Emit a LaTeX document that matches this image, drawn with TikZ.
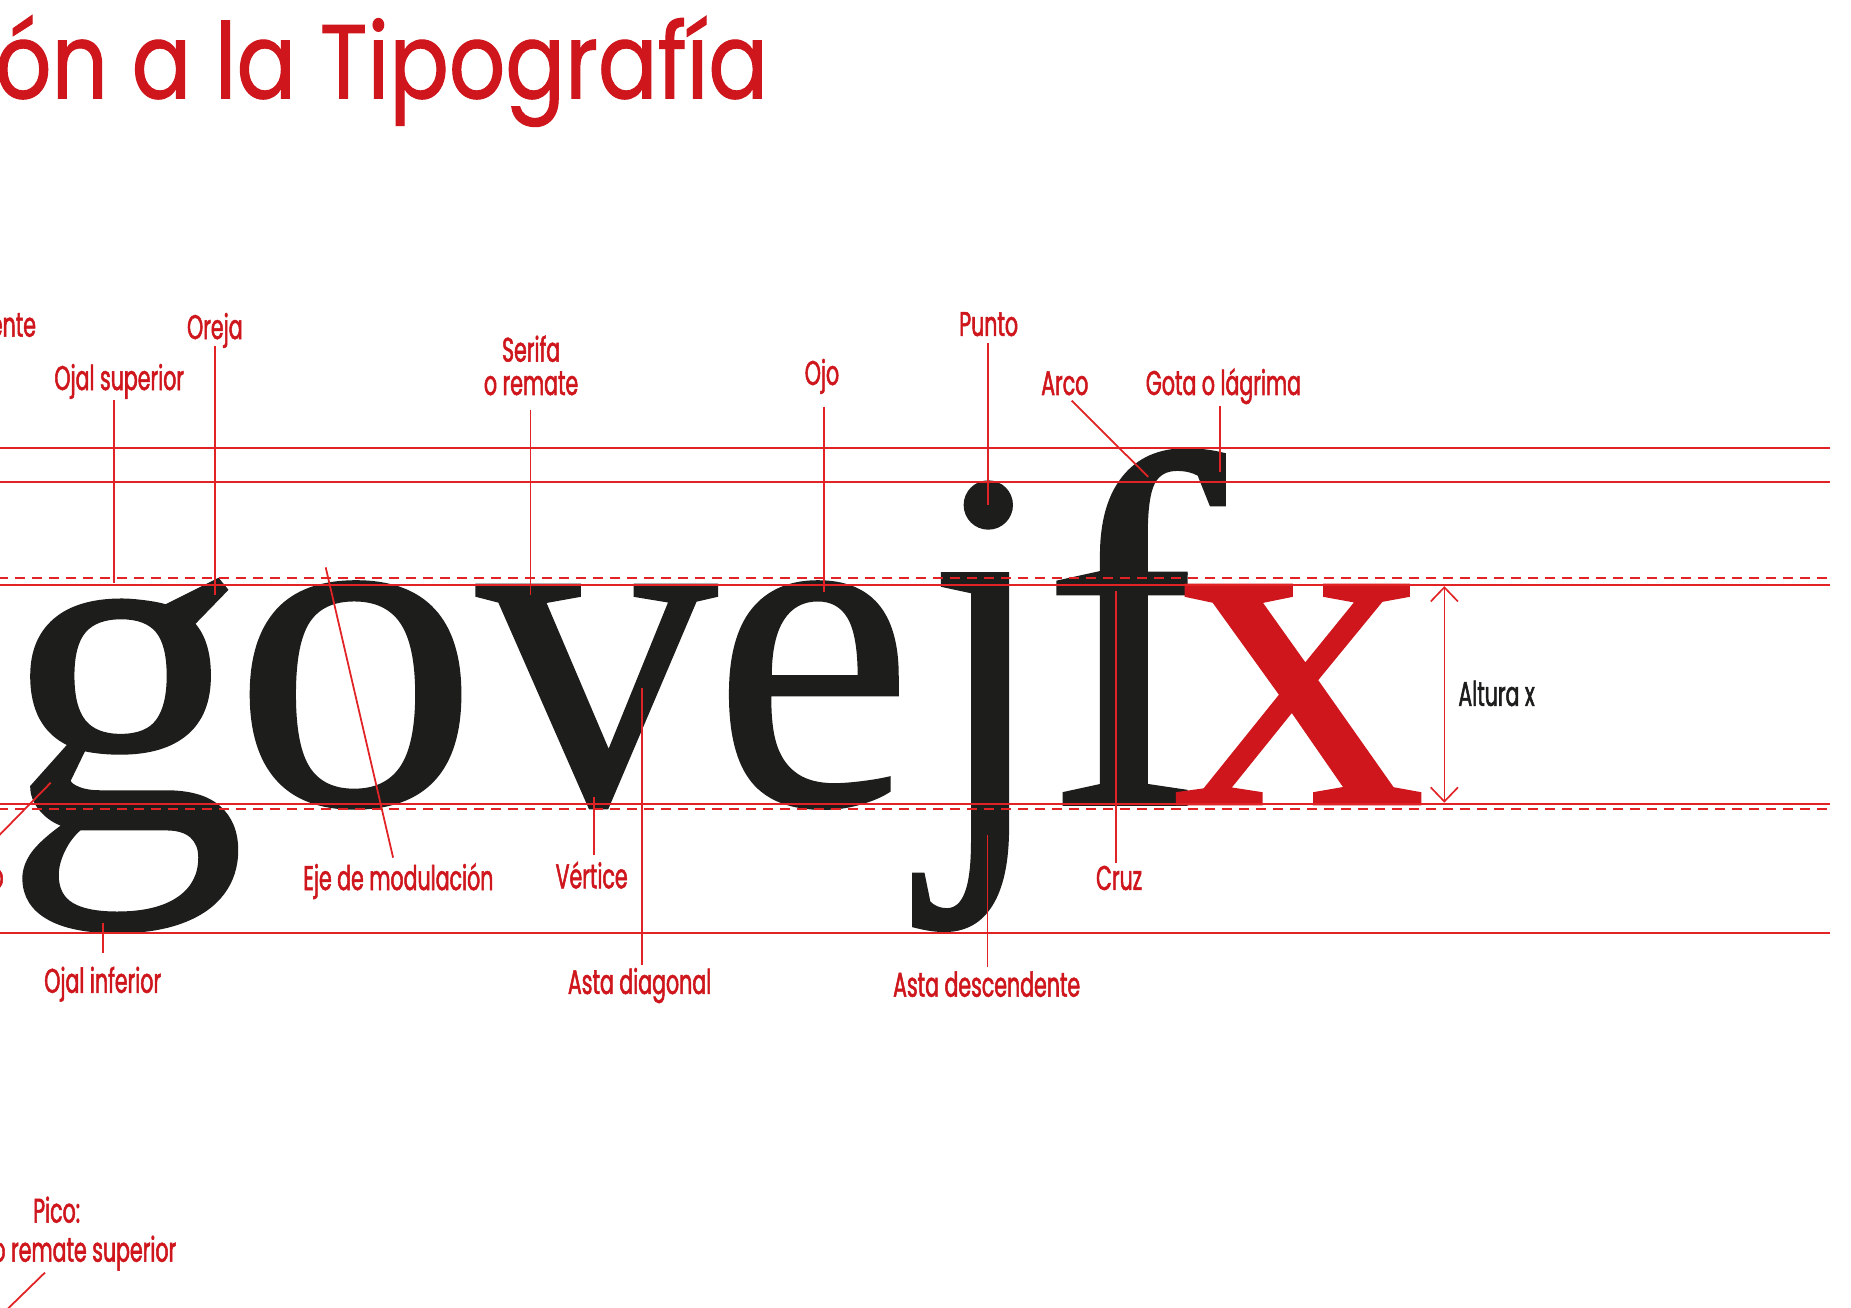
\documentclass[tikz,border=0pt]{standalone}
\usepackage{fontspec}
\usetikzlibrary{arrows.meta}
\setmainfont{Liberation Serif}
\newfontfamily\labfont[FakeStretch=0.60,FakeBold=1.5]{Poppins}
\newfontfamily\ttlfont[FakeStretch=0.84,FakeBold=1]{Poppins}
\newfontfamily\serfont[FakeBold=0.6]{Liberation Serif}
\newlength\glu \setlength\glu{0.5pt}
\definecolor{rline}{RGB}{226,35,38}
\definecolor{rtext}{RGB}{206,22,28}
\definecolor{inkc}{RGB}{29,29,27}
\newcommand\gly[3]{\resizebox*{#1\glu}{#2\glu}{\serfont #3}}
\begin{document}
\begin{tikzpicture}[x=0.5pt,y=-0.5pt,
  glyph/.style={inner sep=0pt,outer sep=0pt,anchor=north west,text=inkc},
  guide/.style={draw=rline,line width=0.85pt},
  guidedash/.style={draw=rline,line width=0.85pt,dash pattern=on 4.5pt off 2.7pt},
  leader/.style={draw=rline,line width=0.75pt},
  lbl/.style={font=\labfont\fontsize{14.5}{17}\selectfont,text=rtext,inner sep=0pt,anchor=base},
  ttl/.style={font=\ttlfont\fontsize{44.5}{50}\selectfont,text=rtext,inner sep=0pt,anchor=base east}]
\path[use as bounding box] (0,0) rectangle (1568,1108);
\clip (0,0) rectangle (1568,1108);
\fill[white] (0,0) rectangle (1568,1108);

% title
\node[ttl] (title) at (651,83.3) {ón a la Tipografía};

% glyphs
\node[glyph] (lg) at (2.5,491) {\gly{205.9}{298}{g}};
\node[glyph] (lo) at (196.9,492.7) {\gly{208.6}{191.8}{o}};
\node[glyph] (lv) at (404,495.7) {\gly{203}{188.3}{v}};
\node[glyph] (le) at (603.7,492.7) {\gly{169.7}{192}{e}};
\begin{scope}
\clip (700,470) rectangle (900,800);
\node[glyph] (lj) at (784.4,394.7) {\gly{102.9}{392.8}{j}};
\end{scope}
\fill[inkc] (837.2,427.8) circle (20.9);
\begin{scope}
\clip (870,360) -- (1100,360) -- (1100,470) -- (1006,470) -- (1006,700) -- (870,700) -- cycle;
\node[glyph] (lf) at (882,381) {\gly{155}{300}{f}};
\end{scope}
\node[glyph,text=rtext] (lx) at (993.7,495.7) {\gly{214.3}{185.1}{x}};

% guide lines
\draw[guide] (-2,379.2) -- (1550,379.2);
\draw[guide] (-2,408) -- (1550,408);
\draw[guidedash] (-2,489.9) -- (1550,489.9);
\draw[guide] (-2,495.7) -- (1550,495.7);
\draw[guide] (-2,680.8) -- (1550,680.8);
\draw[guidedash] (-2,685.4) -- (1550,685.4);
\draw[guide] (-2,790.6) -- (1550,790.6);

% x-height dimension
\coordinate (xtop) at (1223.5,496.5);
\coordinate (xbot) at (1223.5,680);
\draw[draw=rline,line width=0.7pt,{Straight Barb[length=6pt,width=11.5pt]}-{Straight Barb[length=6pt,width=11.5pt]}] (xtop) -- (xbot);
\node[lbl,text=inkc,anchor=base west] (altura) at (1235,598) {Altura x};

% labels
\node[lbl,anchor=base east] (ente) at (30.9,285.2) {ente};
\node[lbl] (oreja) at (182,287.2) {Oreja};
\node[lbl] (ojalsup) at (101,330.4) {Ojal superior};
\node[lbl] (serifa) at (449.9,306.4) {Serifa};
\node[lbl] (oremate) at (449.9,334.6) {o remate};
\node[lbl] (ojo) at (696.3,326.1) {Ojo};
\node[lbl] (punto) at (837.5,284.6) {Punto};
\node[lbl] (arco) at (902,334.6) {Arco};
\node[lbl] (gota) at (1036.4,334.6) {Gota o lágrima};
\node[lbl] (eje) at (337.5,754) {Eje de modulación};
\node[lbl] (vertice) at (501.2,752.5) {Vértice};
\node[lbl,anchor=base east] (lefto) at (3.5,752.5) {o};
\node[lbl] (cruz) at (948,753.9) {Cruz};
\node[lbl] (ojalinf) at (87,841) {Ojal inferior};
\node[lbl] (astadiag) at (541.8,842) {Asta diagonal};
\node[lbl] (astadesc) at (835.8,844.3) {Asta descendente};
\node[lbl] (pico) at (48,1035.7) {Pico:};
\node[lbl,anchor=base east] (picob) at (149.7,1068.8) {o remate superior};

% connector end points
\coordinate (orejaA) at (182,292.8);   \coordinate (orejaB) at (182,504);
\coordinate (ojalsupA) at (96.7,339);  \coordinate (ojalsupB) at (96.7,494.1);
\coordinate (serifaA) at (449.3,347);  \coordinate (serifaB) at (449.3,504);
\coordinate (ojoA) at (698,344.5);     \coordinate (ojoB) at (698,501.2);
\coordinate (puntoA) at (837.2,290.7); \coordinate (puntoB) at (837.2,427.8);
\coordinate (arcoA) at (907.8,339.4);  \coordinate (arcoB) at (972.7,404);
\coordinate (gotaA) at (1033.5,343.9); \coordinate (gotaB) at (1033.5,399.6);
\coordinate (ejeA) at (333,726.5);     \coordinate (ejeB) at (275.9,480.6);
\coordinate (verticeA) at (503.3,724.3); \coordinate (verticeB) at (503.3,674.8);
\coordinate (astadiagA) at (543.7,817.5); \coordinate (astadiagB) at (543.7,582.8);
\coordinate (ojalinfA) at (87.2,807);  \coordinate (ojalinfB) at (87.2,782);
\coordinate (astadescA) at (836.6,818.9); \coordinate (astadescB) at (836.6,707.3);
\coordinate (cruzA) at (945.1,730.8);  \coordinate (cruzB) at (945.1,501);
\coordinate (leftoA) at (-5,712);      \coordinate (leftoB) at (43,663);
\coordinate (picoA) at (38.1,1078);    \coordinate (picoB) at (-3,1118);

\draw[leader] (orejaA) -- (orejaB);
\draw[leader] (ojalsupA) -- (ojalsupB);
\draw[leader] (serifaA) -- (serifaB);
\draw[leader] (ojoA) -- (ojoB);
\draw[leader] (puntoA) -- (puntoB);
\draw[leader] (arcoA) -- (arcoB);
\draw[leader] (gotaA) -- (gotaB);
\draw[leader] (ejeA) -- (ejeB);
\draw[leader] (verticeA) -- (verticeB);
\draw[leader] (astadiagA) -- (astadiagB);
\draw[leader] (ojalinfA) -- (ojalinfB);
\draw[leader] (astadescA) -- (astadescB);
\draw[leader] (cruzA) -- (cruzB);
\draw[leader] (leftoA) -- (leftoB);
\draw[leader] (picoA) -- (picoB);
\end{tikzpicture}
\end{document}
